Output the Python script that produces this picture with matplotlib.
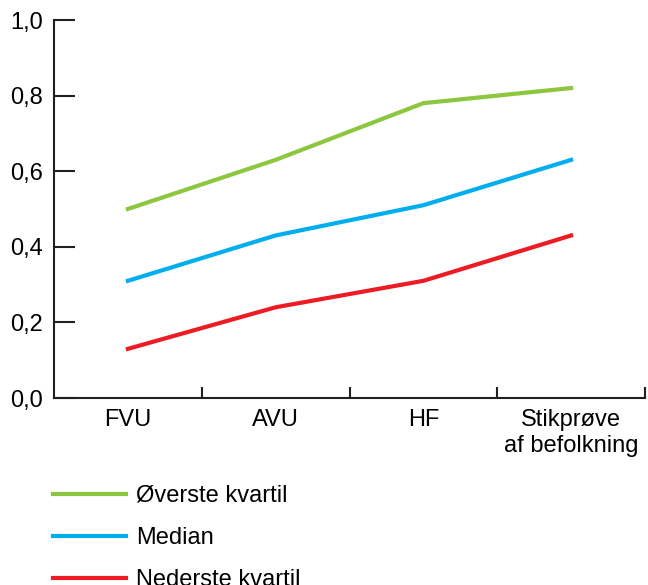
import numpy as np
import matplotlib.pyplot as plt
from matplotlib.ticker import FixedLocator, FuncFormatter

plt.rcParams['font.family'] = ['Liberation Sans', 'DejaVu Sans']

categories = ['FVU', 'AVU', 'HF', 'Stikprøve\naf befolkning']
oeverste = [0.50, 0.63, 0.78, 0.82]
median = [0.31, 0.43, 0.51, 0.63]
nederste = [0.13, 0.24, 0.31, 0.43]

fig = plt.figure(figsize=(6.48, 5.85), dpi=100)
ax = fig.add_axes([54/648, 1-398/585, (645-54)/648, (398-20)/585])

x = np.arange(len(categories))
ax.plot(x, oeverste, color='#8dc63f', lw=3, label='Øverste kvartil')
ax.plot(x, median, color='#00aeef', lw=3, label='Median')
ax.plot(x, nederste, color='#ed1c24', lw=3, label='Nederste kvartil')

ax.set_xlim(-0.5, len(categories) - 0.5)
ax.set_ylim(0, 1.0)
ax.spines['top'].set_visible(False)
ax.spines['right'].set_visible(False)
for s in ['left', 'bottom']:
    ax.spines[s].set_linewidth(1.5)
    ax.spines[s].set_color('#231f20')

ax.set_yticks(np.arange(0, 1.01, 0.2))
ax.yaxis.set_major_formatter(FuncFormatter(lambda v, p: f'{v:.1f}'.replace('.', ',')))
ax.tick_params(axis='y', direction='in', length=15, width=1.5, color='#231f20',
               labelsize=17, pad=8)

ax.set_xticks(x)
ax.set_xticklabels(categories)
ax.tick_params(axis='x', which='major', length=0, labelsize=17, pad=8)
ax.xaxis.set_minor_locator(FixedLocator(np.arange(0.5, len(categories), 1.0)))
ax.tick_params(axis='x', which='minor', direction='in', length=8, width=1.5, color='#231f20')

fig.legend(loc='upper left', bbox_to_anchor=(53/648, 1-485/585), frameon=False,
           fontsize=17, handlelength=3.1, handletextpad=0.4, labelspacing=0.85,
           borderpad=0, borderaxespad=0)

fig.savefig('out.png', dpi=100)
